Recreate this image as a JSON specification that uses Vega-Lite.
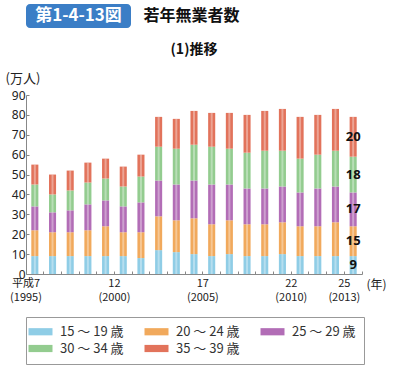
{
  "$schema": "https://vega.github.io/schema/vega-lite/v6.json",
  "padding": {"left": 5, "top": 4, "right": 5, "bottom": 0},
  "spacing": 15,
  "config": {
    "view": {"stroke": null},
    "font": "Noto Sans CJK JP",
    "concat": {"spacing": 12},
    "axisY": {
      "titleAngle": 0, "titleAlign": "left", "titleBaseline": "middle",
      "titleX": -21, "titleY": -17, "titleFontSize": 13, "titleFontWeight": "normal", "titleColor": "#222",
      "titleFont": "Noto Sans CJK JP",
      "labelFont": "Noto Sans", "labelFontSize": 12, "labelColor": "#222", "labelPadding": 4,
      "tickSize": -3, "tickColor": "#888", "domainColor": "#888", "grid": false, "labelOverlap": false
    }
  },
  "vconcat": [
    {
      "spacing": 12,
      "hconcat": [
        {
          "width": 105,
          "height": 24,
          "data": {"values": [{"t": "第1-4-13図"}]},
          "encoding": {
            "x": {"field": "t", "type": "nominal", "axis": null, "scale": {"padding": 0}},
            "y": {"field": "t", "type": "nominal", "axis": null, "scale": {"padding": 0}}
          },
          "layer": [
            {"mark": {"type": "rect", "color": "#3b7ec6", "cornerRadius": 4}},
            {"mark": {"type": "text", "color": "white", "fontSize": 17, "fontWeight": "bold", "font": "Noto Sans CJK JP"},
             "encoding": {"text": {"field": "t"}}}
          ]
        },
        {
          "width": 93,
          "height": 24,
          "data": {"values": [{"t": "若年無業者数"}]},
          "mark": {"type": "text", "color": "#111", "fontSize": 16, "fontWeight": "bold", "font": "Noto Sans CJK JP"},
          "encoding": {"text": {"field": "t"}}
        }
      ]
    },
    {
      "width": 336,
      "height": 179,
      "title": {"text": "(1)推移", "fontSize": 14, "fontWeight": "bold", "anchor": "middle", "offset": 15, "font": "Noto Sans CJK JP", "color": "#111"},
      "data": {"values": [
        {"year":1995,"age":"15 ～ 19 歳","value":9},{"year":1995,"age":"20 ～ 24 歳","value":13},{"year":1995,"age":"25 ～ 29 歳","value":12},{"year":1995,"age":"30 ～ 34 歳","value":11},{"year":1995,"age":"35 ～ 39 歳","value":10},
        {"year":1996,"age":"15 ～ 19 歳","value":9},{"year":1996,"age":"20 ～ 24 歳","value":12},{"year":1996,"age":"25 ～ 29 歳","value":10},{"year":1996,"age":"30 ～ 34 歳","value":9},{"year":1996,"age":"35 ～ 39 歳","value":10},
        {"year":1997,"age":"15 ～ 19 歳","value":9},{"year":1997,"age":"20 ～ 24 歳","value":12},{"year":1997,"age":"25 ～ 29 歳","value":11},{"year":1997,"age":"30 ～ 34 歳","value":10},{"year":1997,"age":"35 ～ 39 歳","value":10},
        {"year":1998,"age":"15 ～ 19 歳","value":9},{"year":1998,"age":"20 ～ 24 歳","value":13},{"year":1998,"age":"25 ～ 29 歳","value":13},{"year":1998,"age":"30 ～ 34 歳","value":11},{"year":1998,"age":"35 ～ 39 歳","value":10},
        {"year":1999,"age":"15 ～ 19 歳","value":9},{"year":1999,"age":"20 ～ 24 歳","value":15},{"year":1999,"age":"25 ～ 29 歳","value":13},{"year":1999,"age":"30 ～ 34 歳","value":11},{"year":1999,"age":"35 ～ 39 歳","value":10},
        {"year":2000,"age":"15 ～ 19 歳","value":9},{"year":2000,"age":"20 ～ 24 歳","value":12},{"year":2000,"age":"25 ～ 29 歳","value":13},{"year":2000,"age":"30 ～ 34 歳","value":10},{"year":2000,"age":"35 ～ 39 歳","value":10},
        {"year":2001,"age":"15 ～ 19 歳","value":8},{"year":2001,"age":"20 ～ 24 歳","value":13},{"year":2001,"age":"25 ～ 29 歳","value":15},{"year":2001,"age":"30 ～ 34 歳","value":13},{"year":2001,"age":"35 ～ 39 歳","value":11},
        {"year":2002,"age":"15 ～ 19 歳","value":12},{"year":2002,"age":"20 ～ 24 歳","value":17},{"year":2002,"age":"25 ～ 29 歳","value":18},{"year":2002,"age":"30 ～ 34 歳","value":17},{"year":2002,"age":"35 ～ 39 歳","value":15},
        {"year":2003,"age":"15 ～ 19 歳","value":11},{"year":2003,"age":"20 ～ 24 歳","value":16},{"year":2003,"age":"25 ～ 29 歳","value":18},{"year":2003,"age":"30 ～ 34 歳","value":18},{"year":2003,"age":"35 ～ 39 歳","value":15},
        {"year":2004,"age":"15 ～ 19 歳","value":10},{"year":2004,"age":"20 ～ 24 歳","value":18},{"year":2004,"age":"25 ～ 29 歳","value":19},{"year":2004,"age":"30 ～ 34 歳","value":18},{"year":2004,"age":"35 ～ 39 歳","value":17},
        {"year":2005,"age":"15 ～ 19 歳","value":9},{"year":2005,"age":"20 ～ 24 歳","value":16},{"year":2005,"age":"25 ～ 29 歳","value":20},{"year":2005,"age":"30 ～ 34 歳","value":19},{"year":2005,"age":"35 ～ 39 歳","value":17},
        {"year":2006,"age":"15 ～ 19 歳","value":10},{"year":2006,"age":"20 ～ 24 歳","value":17},{"year":2006,"age":"25 ～ 29 歳","value":18},{"year":2006,"age":"30 ～ 34 歳","value":18},{"year":2006,"age":"35 ～ 39 歳","value":18},
        {"year":2007,"age":"15 ～ 19 歳","value":9},{"year":2007,"age":"20 ～ 24 歳","value":16},{"year":2007,"age":"25 ～ 29 歳","value":18},{"year":2007,"age":"30 ～ 34 歳","value":18},{"year":2007,"age":"35 ～ 39 歳","value":19},
        {"year":2008,"age":"15 ～ 19 歳","value":9},{"year":2008,"age":"20 ～ 24 歳","value":16},{"year":2008,"age":"25 ～ 29 歳","value":18},{"year":2008,"age":"30 ～ 34 歳","value":19},{"year":2008,"age":"35 ～ 39 歳","value":20},
        {"year":2009,"age":"15 ～ 19 歳","value":10},{"year":2009,"age":"20 ～ 24 歳","value":16},{"year":2009,"age":"25 ～ 29 歳","value":18},{"year":2009,"age":"30 ～ 34 歳","value":18},{"year":2009,"age":"35 ～ 39 歳","value":21},
        {"year":2010,"age":"15 ～ 19 歳","value":9},{"year":2010,"age":"20 ～ 24 歳","value":15},{"year":2010,"age":"25 ～ 29 歳","value":17},{"year":2010,"age":"30 ～ 34 歳","value":17},{"year":2010,"age":"35 ～ 39 歳","value":21},
        {"year":2011,"age":"15 ～ 19 歳","value":9},{"year":2011,"age":"20 ～ 24 歳","value":15},{"year":2011,"age":"25 ～ 29 歳","value":19},{"year":2011,"age":"30 ～ 34 歳","value":17},{"year":2011,"age":"35 ～ 39 歳","value":20},
        {"year":2012,"age":"15 ～ 19 歳","value":9},{"year":2012,"age":"20 ～ 24 歳","value":17},{"year":2012,"age":"25 ～ 29 歳","value":18},{"year":2012,"age":"30 ～ 34 歳","value":18},{"year":2012,"age":"35 ～ 39 歳","value":21},
        {"year":2013,"age":"15 ～ 19 歳","value":9},{"year":2013,"age":"20 ～ 24 歳","value":15},{"year":2013,"age":"25 ～ 29 歳","value":17},{"year":2013,"age":"30 ～ 34 歳","value":18},{"year":2013,"age":"35 ～ 39 歳","value":20}
      ]},
      "encoding": {
        "x": {
          "field": "year", "type": "ordinal",
          "scale": {"paddingInner": 0.6, "paddingOuter": 0.3},
          "axis": {
            "title": "(年)", "titleX": 350, "titleY": 5, "titleAlign": "center", "titleBaseline": "top",
            "titleFontSize": 12, "titleFontWeight": "normal", "titleColor": "#222", "titleFont": "Noto Sans CJK JP",
            "bandPosition": 1.75, "labelOffset": -8.84, "labelAngle": 0, "labelOverlap": false,
            "labelExpr": "datum.value == 1995 ? ['平成7', '(1995)'] : datum.value == 2000 ? ['12', '(2000)'] : datum.value == 2005 ? ['17', '(2005)'] : datum.value == 2010 ? ['22', '(2010)'] : datum.value == 2013 ? ['25', '(2013)'] : ''",
            "labelFont": "Noto Sans CJK JP",
            "labelFontSize": 11, "labelLineHeight": 14, "labelColor": "#222", "labelPadding": 6,
            "tickSize": -3, "tickColor": "#888", "domainColor": "#888", "grid": false
          }
        },
        "order": {"field": "age", "sort": "ascending"}
      },
      "layer": [
        {
          "mark": {"type": "bar"},
          "encoding": {
            "y": {
              "field": "value", "type": "quantitative", "stack": "zero", "title": "(万人)",
              "scale": {"domain": [0, 90]},
              "axis": {"values": [0, 10, 20, 30, 40, 50, 60, 70, 80, 90]}
            },
            "color": {
              "field": "age", "type": "nominal",
              "scale": {
                "domain": ["15 ～ 19 歳", "20 ～ 24 歳", "25 ～ 29 歳", "30 ～ 34 歳", "35 ～ 39 歳"],
                "range": ["#8fcde6", "#f1a95c", "#b26db6", "#93cc8f", "#e2735b"]
              },
              "legend": {
                "orient": "bottom", "offset": 15, "direction": "horizontal", "columns": 3,
                "title": null, "strokeColor": "#999", "padding": 8,
                "symbolType": "M-2,-0.6H2V0.6H-2Z", "symbolSize": 144, "symbolStrokeWidth": 0, "symbolOpacity": 1,
                "labelFontSize": 13, "labelOffset": 13, "labelColor": "#333", "labelFont": "Noto Sans CJK JP",
                "columnPadding": 20, "rowPadding": 3
              }
            }
          }
        },
        {
          "mark": {"type": "bar", "color": "white", "opacity": 0.35, "size": 2},
          "encoding": {
            "y": {"field": "value", "type": "quantitative", "stack": "zero", "title": "(万人)", "axis": {"values": [0, 10, 20, 30, 40, 50, 60, 70, 80, 90]}},
            "detail": {"field": "age"}
          }
        },
        {
          "transform": [{"filter": "datum.year == 2013"}],
          "mark": {"type": "text", "fontSize": 13, "fontWeight": "bold", "color": "#111", "font": "Noto Sans"},
          "encoding": {
            "y": {"field": "value", "type": "quantitative", "stack": "zero", "bandPosition": 0.5, "title": "(万人)", "axis": {"values": [0, 10, 20, 30, 40, 50, 60, 70, 80, 90]}},
            "detail": {"field": "age"},
            "text": {"field": "value", "type": "quantitative"}
          }
        }
      ]
    }
  ]
}
